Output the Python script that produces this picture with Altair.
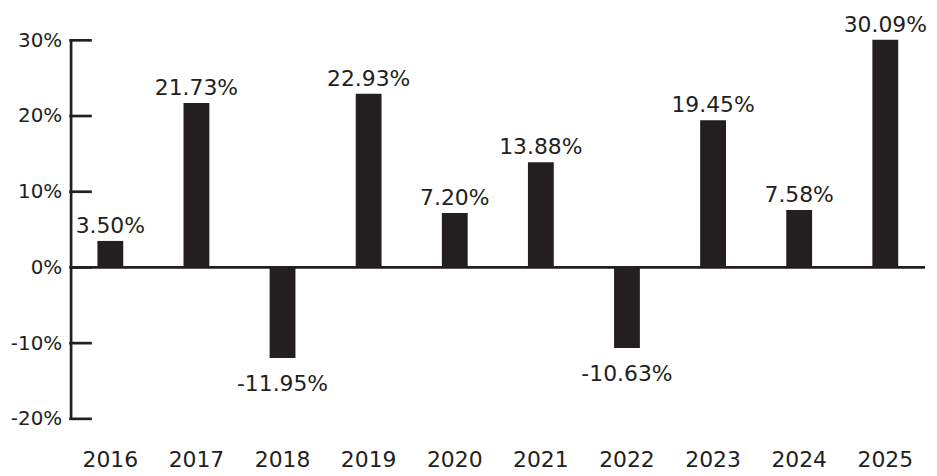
import altair as alt
import pandas as pd

years = ["2016", "2017", "2018", "2019", "2020", "2021", "2022", "2023", "2024", "2025"]
returns = [3.50, 21.73, -11.95, 22.93, 7.20, 13.88, -10.63, 19.45, 7.58, 30.09]
y_ticks = [-20, -10, 0, 10, 20, 30]

INK = "#231f20"
FONT = "DejaVu Sans"
FS = 22

df = pd.DataFrame({
    "year": years,
    "value": returns,
    "label": [f"{v:.2f}%" for v in returns],
})
tick_df = pd.DataFrame({"value": y_ticks})
zero_df = pd.DataFrame({"value": [0]})

x_enc = alt.X(
    "year:N",
    sort=years,
    scale=alt.Scale(paddingInner=0.7, paddingOuter=0.3115),
    axis=alt.Axis(
        title=None, labelAngle=0, domain=False, ticks=False, grid=False,
        labelPadding=31, labelFontSize=FS, labelFont=FONT, labelColor=INK,
        labelFontWeight="normal",
    ),
)
y_enc = alt.Y(
    "value:Q",
    scale=alt.Scale(domain=[-20, 30], nice=False, zero=False),
    axis=alt.Axis(
        title=None, values=y_ticks, grid=False, ticks=False,
        domainColor=INK, domainWidth=2.7,
        labelPadding=9, labelExpr="datum.value + '%'",
        labelFontSize=20, labelFont=FONT, labelColor=INK, labelBaseline="middle",
        labelFontWeight="normal",
    ),
)

bars = alt.Chart(df).mark_bar(color=INK).encode(x=x_enc, y=y_enc, y2=alt.datum(0))

pos_labels = alt.Chart(df).transform_filter("datum.value >= 0").mark_text(
    font=FONT, fontSize=FS, color=INK, baseline="alphabetic", dy=-8
).encode(x=alt.X("year:N", sort=years), y="value:Q", text="label:N")

neg_labels = alt.Chart(df).transform_filter("datum.value < 0").mark_text(
    font=FONT, fontSize=FS, color=INK, baseline="alphabetic", dy=33
).encode(x=alt.X("year:N", sort=years), y="value:Q", text="label:N")

zero_line = alt.Chart(zero_df).mark_rule(color=INK, strokeWidth=2.7).encode(y="value:Q")

tick_marks = alt.Chart(tick_df).mark_rule(color=INK, strokeWidth=2.7, strokeCap="square").encode(
    y="value:Q", x=alt.value(0), x2=alt.value(20)
)

chart = alt.layer(zero_line, tick_marks, bars, pos_labels, neg_labels).properties(
    width=860,
    height=381,
    autosize=alt.AutoSizeParams(type="none"),
    padding={"left": 63, "top": 31, "right": 4, "bottom": 55},
).configure(background="white").configure_view(stroke=None).configure_axis(grid=False)

chart.save("out.html", embed_options={"renderer": "svg", "actions": False})
